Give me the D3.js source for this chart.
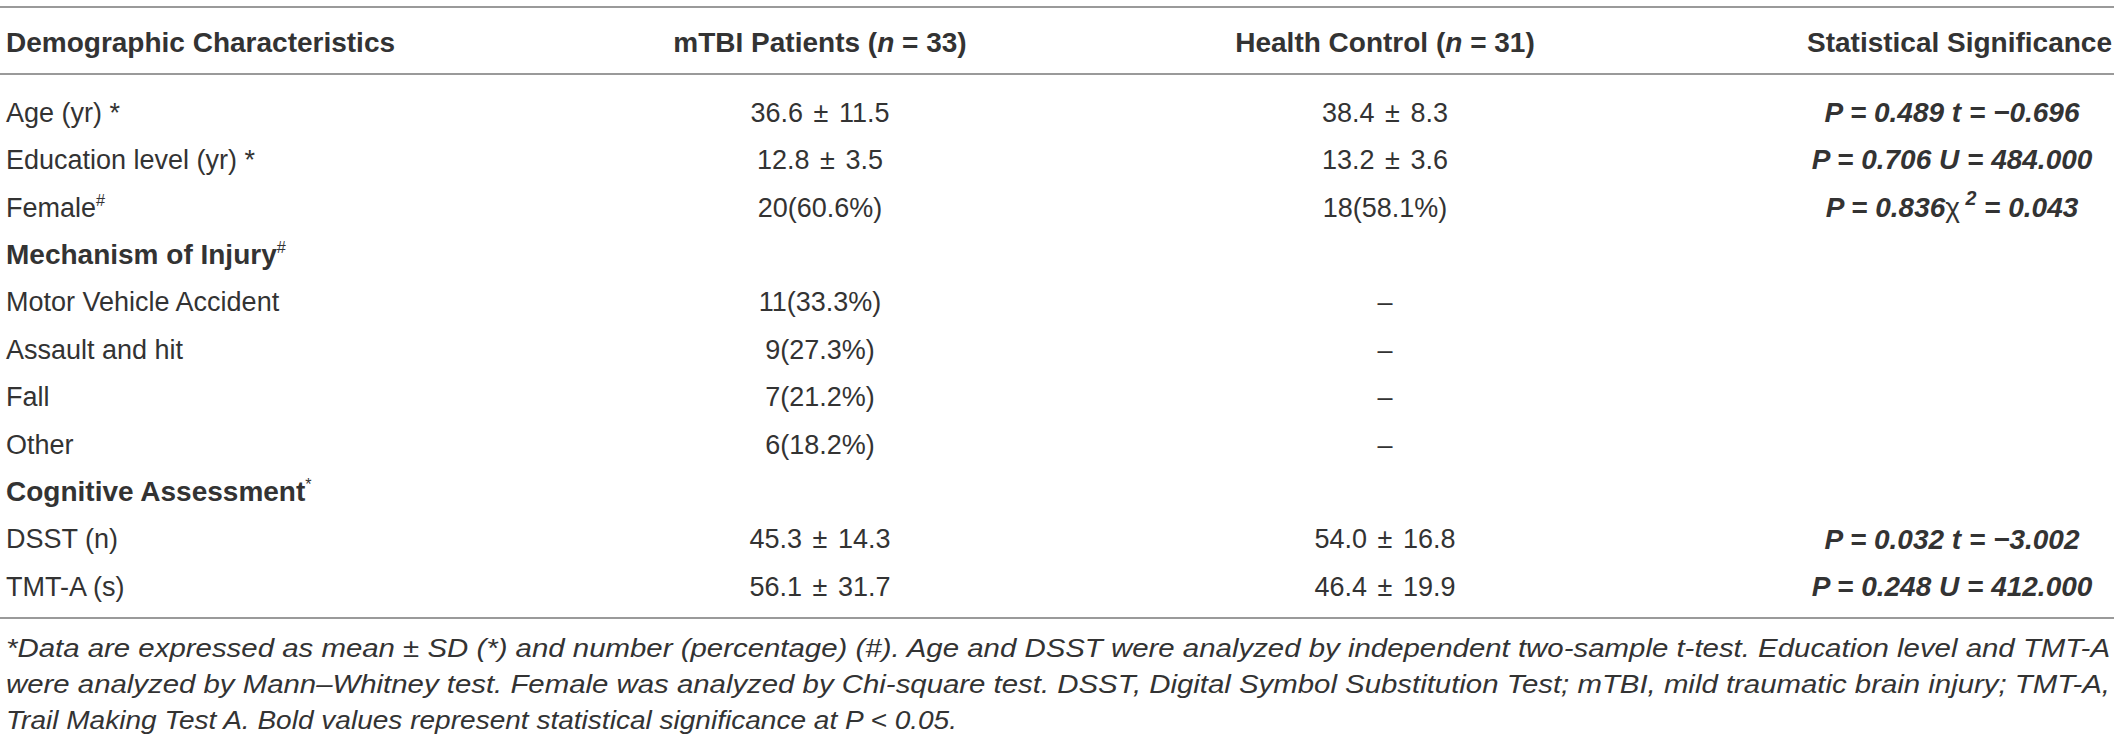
<!DOCTYPE html>
<html>
<head>
<meta charset="utf-8">
<script src="https://cdn.jsdelivr.net/npm/d3@7"></script>
<style>
  html, body { margin: 0; padding: 0; background: #fff; }
  svg { display: block; }
  text { font-family: "Liberation Sans", Arial, sans-serif; fill: #333; }
</style>
</head>
<body>
<svg id="plot"></svg>
<script>
svgWidth = 2118;
svgHeight = 744;

// column headers
headers = ["Demographic Characteristics", "mTBI Patients", "Health Control", "Statistical Significance"];
groupN = [null, 33, 31, null];

// rows: label, superscript mark, group-header flag
rowLabels = ["Age (yr)", "Education level (yr)", "Female", "Mechanism of Injury",
    "Motor Vehicle Accident", "Assault and hit", "Fall", "Other",
    "Cognitive Assessment", "DSST (n)", "TMT-A (s)"];
rowMarks = [" *", " *", "#", "#", "", "", "", "", "*", "", ""];
rowIsGroup = [false, false, false, true, false, false, false, false, true, false, false];

// series values
mtbiValues = ["36.6 ± 11.5", "12.8 ± 3.5", "20(60.6%)", "",
    "11(33.3%)", "9(27.3%)", "7(21.2%)", "6(18.2%)",
    "", "45.3 ± 14.3", "56.1 ± 31.7"];
controlValues = ["38.4 ± 8.3", "13.2 ± 3.6", "18(58.1%)", "",
    "–", "–", "–", "–",
    "", "54.0 ± 16.8", "46.4 ± 19.9"];
pValues = ["0.489", "0.706", "0.836", "", "", "", "", "", "", "0.032", "0.248"];
testStat = ["t", "U", "χ2", "", "", "", "", "", "", "t", "U"];
testValues = ["−0.696", "484.000", "0.043", "", "", "", "", "", "", "−3.002", "412.000"];

footnote = [
    "*Data are expressed as mean ± SD (*) and number (percentage) (#). Age and DSST were analyzed by independent two-sample t-test. Education level and TMT-A",
    "were analyzed by Mann–Whitney test. Female was analyzed by Chi-square test. DSST, Digital Symbol Substitution Test; mTBI, mild traumatic brain injury; TMT-A,",
    "Trail Making Test A. Bold values represent statistical significance at P < 0.05."
];

function makeChart() {
    const svg = d3.select("#plot")
        .attr("width", svgWidth)
        .attr("height", svgHeight)
        .attr("viewBox", [0, 0, svgWidth, svgHeight]);

    const y = d3.scalePoint()
        .domain(rowLabels.map((d, i) => i))
        .range([112, 586]);

    const colX = [6, 820, 1385, 1952];
    const hs = 28;   // header size
    const fs = 27;   // body size

    // rules
    svg.append("g")
        .selectAll("line")
        .data([7, 74, 618])
        .join("line")
        .attr("x1", 0)
        .attr("x2", svgWidth - 4)
        .attr("y1", d => d)
        .attr("y2", d => d)
        .attr("stroke", "#9a9a9a")
        .attr("stroke-width", 2);

    // header
    const head = svg.append("g")
        .selectAll("text")
        .data(headers)
        .join("text")
        .attr("x", (d, i) => i == 3 ? 2112 : colX[i])
        .attr("y", 42)
        .attr("dy", "0.36em")
        .attr("font-size", hs)
        .attr("font-weight", "bold")
        .attr("fill", "#111")
        .attr("text-anchor", (d, i) => i == 0 ? "start" : i == 3 ? "end" : "middle");
    head.append("tspan").text(d => d);
    head.each(function (d, i) {
        if (groupN[i] == null) return;
        const t = d3.select(this);
        t.append("tspan").text(" (");
        t.append("tspan").attr("font-style", "italic").text("n");
        t.append("tspan").text(" = " + groupN[i] + ")");
    });

    // row labels
    const lab = svg.append("g")
        .selectAll("text")
        .data(rowLabels)
        .join("text")
        .attr("x", colX[0])
        .attr("y", (d, i) => y(i))
        .attr("dy", "0.36em")
        .attr("font-size", (d, i) => rowIsGroup[i] ? hs : fs)
        .attr("font-weight", (d, i) => rowIsGroup[i] ? "bold" : "normal")
        .attr("fill", (d, i) => rowIsGroup[i] ? "#111" : "#333");
    lab.append("tspan").text(d => d);
    lab.append("tspan")
        .attr("font-size", (d, i) => rowMarks[i].startsWith(" ") ? fs : fs * 0.6)
        .attr("font-weight", "normal")
        .attr("dy", (d, i) => rowMarks[i].startsWith(" ") ? 0 : -11)
        .text((d, i) => rowMarks[i]);

    // value columns
    [mtbiValues, controlValues].forEach((vals, c) => {
        svg.append("g")
            .selectAll("text")
            .data(vals)
            .join("text")
            .attr("x", colX[c + 1])
            .attr("y", (d, i) => y(i))
            .attr("dy", "0.36em")
            .attr("font-size", fs)
            .attr("word-spacing", 3)
            .attr("text-anchor", "middle")
            .text(d => d);
    });

    // statistical significance
    const stat = svg.append("g")
        .selectAll("text")
        .data(pValues.map((p, i) => ({p, s: testStat[i], v: testValues[i], i})).filter(d => d.p))
        .join("text")
        .attr("x", colX[3])
        .attr("y", d => y(d.i))
        .attr("dy", "0.36em")
        .attr("font-size", hs)
        .attr("font-weight", "bold")
        .attr("font-style", "italic")
        .attr("fill", "#111")
        .attr("text-anchor", "middle");
    stat.each(function (d) {
        const t = d3.select(this);
        if (d.s == "χ2") {
            t.append("tspan").text("P = " + d.p);
            t.append("tspan").attr("font-weight", "normal").attr("font-style", "normal").text("χ");
            t.append("tspan").attr("font-size", hs * 0.7).attr("dy", -12).text(" 2");
            t.append("tspan").attr("dy", 12).text(" = " + d.v);
        } else {
            t.append("tspan").text("P = " + d.p + " " + d.s + " = " + d.v);
        }
    });

    // footnote (first two lines justified)
    svg.append("g")
        .selectAll("text")
        .data(footnote)
        .join("text")
        .attr("x", 6)
        .attr("y", (d, i) => 648 + i * 36)
        .attr("dy", "0.36em")
        .attr("font-size", 26)
        .attr("font-style", "italic")
        .attr("textLength", (d, i) => i < 2 ? 2104 : 951)
        .attr("lengthAdjust", "spacingAndGlyphs")
        .text(d => d);
}

makeChart();
</script>
</body>
</html>
